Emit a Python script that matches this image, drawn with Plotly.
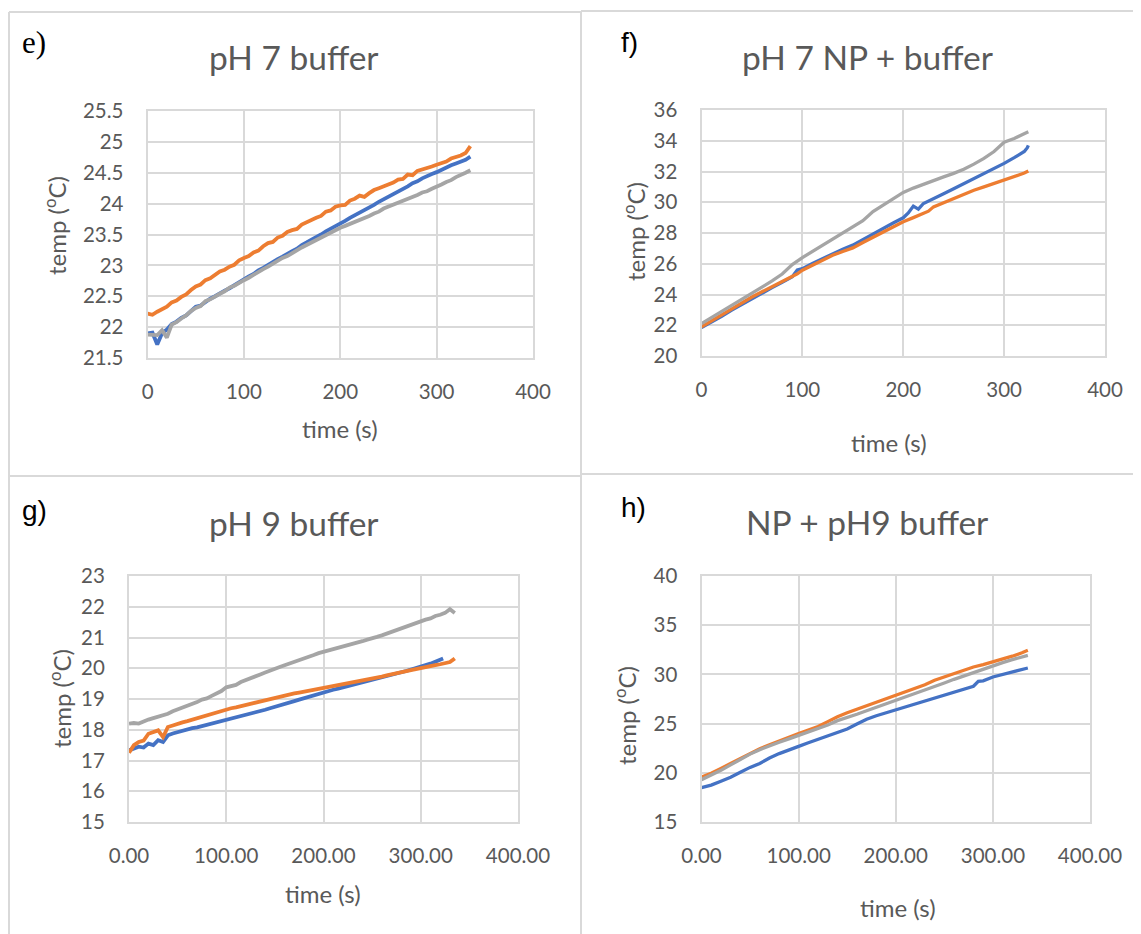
import plotly.graph_objects as go

# The page body has an 8 px margin, so the figure is drawn 8 px smaller and all
# positions below are given in window pixels and shifted by OFF.
WIN_W, WIN_H = 1141, 934
OFF = 8
W, H = WIN_W - OFF, WIN_H - OFF

# ---------------- data ----------------
# Panel e) pH 7 buffer
time_e = [0, 5, 10, 15, 20, 25, 30, 35, 40, 45, 50, 55, 60, 65, 70, 75, 80, 85, 90, 95,
          100, 105, 110, 115, 120, 125, 130, 135, 140, 145, 150, 155, 160, 165, 170, 175,
          180, 185, 190, 195, 200, 205, 210, 215, 220, 225, 230, 235, 240, 245, 250, 255,
          260, 265, 270, 275, 280, 285, 290, 295, 300, 305, 310, 315, 320, 325, 330, 335]
e_blue = [21.90, 21.91, 21.72, 21.90, 21.96, 22.05, 22.09, 22.15, 22.19, 22.27, 22.33, 22.35,
          22.41, 22.46, 22.50, 22.55, 22.59, 22.63, 22.68, 22.72, 22.77, 22.82, 22.86, 22.92,
          22.96, 23.01, 23.05, 23.10, 23.14, 23.19, 23.23, 23.27, 23.33, 23.37, 23.41, 23.46,
          23.50, 23.55, 23.59, 23.64, 23.68, 23.72, 23.77, 23.81, 23.86, 23.90, 23.94, 23.98,
          24.03, 24.07, 24.11, 24.15, 24.20, 24.24, 24.28, 24.33, 24.36, 24.41, 24.45, 24.48,
          24.51, 24.55, 24.58, 24.62, 24.65, 24.68, 24.71, 24.76]
e_orange = [22.22, 22.20, 22.25, 22.29, 22.33, 22.40, 22.43, 22.49, 22.53, 22.60, 22.66, 22.69,
            22.76, 22.79, 22.84, 22.90, 22.93, 22.98, 23.01, 23.08, 23.12, 23.15, 23.21, 23.24,
            23.31, 23.36, 23.38, 23.45, 23.48, 23.54, 23.57, 23.59, 23.66, 23.70, 23.73, 23.77,
            23.80, 23.87, 23.89, 23.95, 23.97, 23.98, 24.05, 24.08, 24.13, 24.11, 24.17, 24.22,
            24.25, 24.28, 24.31, 24.34, 24.39, 24.40, 24.47, 24.46, 24.53, 24.55, 24.58, 24.60,
            24.63, 24.66, 24.68, 24.73, 24.75, 24.78, 24.82, 24.93]
e_gray = [21.88, 21.88, 21.87, 21.95, 21.83, 22.04, 22.08, 22.14, 22.19, 22.26, 22.31, 22.34,
          22.42, 22.45, 22.50, 22.54, 22.58, 22.64, 22.67, 22.72, 22.76, 22.80, 22.85, 22.90,
          22.94, 22.98, 23.03, 23.07, 23.12, 23.15, 23.20, 23.24, 23.29, 23.33, 23.37, 23.42,
          23.46, 23.50, 23.53, 23.58, 23.61, 23.64, 23.67, 23.71, 23.73, 23.76, 23.80, 23.84,
          23.87, 23.92, 23.95, 23.98, 24.02, 24.05, 24.08, 24.11, 24.14, 24.18, 24.20, 24.24,
          24.27, 24.31, 24.35, 24.38, 24.43, 24.46, 24.50, 24.54]

# Panel f) pH 7 NP + buffer
f_time_blue = [0, 10, 20, 30, 40, 50, 60, 70, 80, 90, 95, 100, 110, 120, 130, 140, 150, 160,
               170, 180, 190, 200, 205, 210, 215, 220, 230, 240, 250, 260, 270, 280, 290, 300,
               310, 320, 323, 324]
f_blue = [21.85, 22.20, 22.58, 22.98, 23.36, 23.73, 24.10, 24.45, 24.80, 25.15, 25.60, 25.68,
          26.02, 26.35, 26.67, 26.95, 27.21, 27.58, 27.95, 28.30, 28.65, 28.99, 29.30, 29.75,
          29.55, 29.92, 30.22, 30.55, 30.88, 31.20, 31.55, 31.87, 32.20, 32.53, 32.90, 33.30,
          33.55, 33.70]
f_time_orange = [0, 10, 20, 30, 40, 50, 60, 70, 80, 90, 95, 100, 110, 120, 130, 140, 150, 160,
                 170, 180, 190, 200, 210, 220, 225, 230, 240, 250, 260, 270, 280, 290, 300, 310,
                 320, 324]
f_orange = [21.90, 22.30, 22.70, 23.10, 23.48, 23.84, 24.18, 24.52, 24.84, 25.15, 25.35, 25.58,
            25.92, 26.25, 26.55, 26.80, 27.03, 27.38, 27.72, 28.05, 28.40, 28.73, 29.00, 29.28,
            29.42, 29.70, 29.98, 30.25, 30.52, 30.78, 31.00, 31.22, 31.44, 31.65, 31.90, 32.03]
f_time_gray = [0, 10, 20, 30, 40, 50, 60, 70, 80, 90, 100, 110, 120, 130, 140, 150, 160, 170,
               180, 190, 200, 210, 220, 230, 240, 250, 260, 270, 280, 290, 300, 310, 320, 324]
f_gray = [22.11, 22.50, 22.92, 23.27, 23.66, 24.06, 24.48, 24.88, 25.33, 25.95, 26.40, 26.80,
          27.22, 27.62, 28.02, 28.40, 28.80, 29.40, 29.80, 30.25, 30.64, 30.92, 31.18, 31.42,
          31.65, 31.88, 32.15, 32.48, 32.85, 33.30, 33.90, 34.15, 34.45, 34.58]

# Panel g) pH 9 buffer
time_g = time_e
g_time_blue = [0, 5, 10, 15, 20, 25, 30, 35, 40, 45, 50, 55, 60, 65, 70, 75, 80, 85, 90, 95,
               100, 105, 110, 115, 120, 125, 130, 135, 140, 145, 150, 155, 160, 165, 170, 175,
               180, 185, 190, 195, 200, 205, 210, 215, 220, 225, 230, 235, 240, 245, 250, 255,
               260, 265, 270, 275, 280, 285, 290, 295, 300, 305, 310, 315, 320, 323]
g_blue = [17.33, 17.40, 17.45, 17.42, 17.55, 17.50, 17.66, 17.60, 17.82, 17.88, 17.93, 17.97,
          18.02, 18.05, 18.08, 18.12, 18.15, 18.19, 18.22, 18.27, 18.31, 18.35, 18.40, 18.43,
          18.48, 18.52, 18.56, 18.60, 18.65, 18.70, 18.74, 18.79, 18.83, 18.88, 18.93, 18.98,
          19.03, 19.07, 19.12, 19.16, 19.21, 19.26, 19.30, 19.34, 19.38, 19.42, 19.45, 19.49,
          19.53, 19.57, 19.60, 19.64, 19.69, 19.73, 19.78, 19.82, 19.87, 19.91, 19.95, 20.00,
          20.04, 20.10, 20.15, 20.21, 20.28, 20.32]
g_orange = [17.25, 17.50, 17.60, 17.65, 17.87, 17.92, 17.98, 17.76, 18.09, 18.14, 18.20, 18.24,
            18.28, 18.33, 18.37, 18.42, 18.46, 18.50, 18.55, 18.60, 18.66, 18.70, 18.73, 18.77,
            18.81, 18.85, 18.88, 18.92, 18.95, 18.99, 19.03, 19.07, 19.11, 19.14, 19.18, 19.21,
            19.24, 19.27, 19.30, 19.32, 19.34, 19.38, 19.42, 19.46, 19.49, 19.52, 19.55, 19.58,
            19.61, 19.64, 19.66, 19.70, 19.73, 19.77, 19.81, 19.84, 19.87, 19.90, 19.94, 19.97,
            20.01, 20.04, 20.07, 20.10, 20.13, 20.17, 20.20, 20.32]
g_gray = [18.20, 18.22, 18.20, 18.28, 18.33, 18.38, 18.42, 18.47, 18.52, 18.60, 18.66, 18.71,
          18.78, 18.82, 18.90, 18.98, 19.02, 19.10, 19.18, 19.26, 19.38, 19.43, 19.46, 19.55,
          19.62, 19.67, 19.74, 19.80, 19.86, 19.93, 19.99, 20.04, 20.10, 20.15, 20.22, 20.28,
          20.33, 20.37, 20.43, 20.49, 20.53, 20.58, 20.62, 20.66, 20.70, 20.76, 20.79, 20.84,
          20.88, 20.93, 20.96, 21.02, 21.07, 21.13, 21.18, 21.22, 21.28, 21.36, 21.41, 21.47,
          21.52, 21.58, 21.62, 21.70, 21.74, 21.80, 21.92, 21.80]

# Panel h) NP + pH9 buffer
h_time_blue = [0, 10, 20, 30, 40, 50, 60, 70, 80, 90, 100, 110, 120, 130, 140, 150, 160, 170,
               180, 190, 200, 210, 220, 230, 240, 250, 260, 270, 280, 285, 290, 300, 310, 320,
               330, 336]
h_blue = [18.49, 18.75, 19.15, 19.55, 20.05, 20.55, 20.95, 21.50, 21.95, 22.35, 22.69, 23.05,
          23.40, 23.75, 24.10, 24.45, 24.95, 25.45, 25.80, 26.10, 26.42, 26.75, 27.05, 27.35,
          27.65, 27.97, 28.25, 28.52, 28.80, 29.30, 29.35, 29.74, 30.00, 30.20, 30.50, 30.65]
h_time = [0, 10, 20, 30, 40, 50, 60, 70, 80, 90, 100, 110, 120, 130, 140, 150, 160, 170, 180,
          190, 200, 210, 220, 230, 240, 250, 260, 270, 280, 290, 300, 310, 320, 330, 336]
h_orange = [19.57, 19.95, 20.45, 20.95, 21.50, 22.00, 22.45, 22.85, 23.25, 23.65, 24.00, 24.35,
            24.70, 25.20, 25.70, 26.10, 26.45, 26.85, 27.20, 27.55, 27.87, 28.20, 28.55, 28.95,
            29.40, 29.74, 30.10, 30.40, 30.75, 31.00, 31.26, 31.55, 31.85, 32.20, 32.45]
h_gray = [19.30, 19.75, 20.25, 20.80, 21.35, 21.90, 22.35, 22.75, 23.10, 23.45, 23.80, 24.15,
          24.50, 24.85, 25.30, 25.60, 25.95, 26.30, 26.65, 26.98, 27.30, 27.65, 28.00, 28.38,
          28.75, 29.13, 29.50, 29.85, 30.20, 30.55, 30.92, 31.20, 31.50, 31.80, 31.94]

titles = ["pH 7 buffer", "pH 7 NP + buffer", "pH 9 buffer", "NP + pH9 buffer"]
panel_labels = ["e)", "f)", "g)", "h)"]
y_ranges = [[21.5, 25.5], [20, 36], [15, 23], [15, 40]]
y_dticks = [0.5, 2, 1, 5]
x_formats = ["d", "d", ".2f", ".2f"]

BLUE, ORANGE, GRAY = "#4472C4", "#ED7D31", "#A5A5A5"
TXT = "#595959"
GRID = "#D9D9D9"

# ---------------- layout geometry (window pixels) ----------------
plots = [  # left, right, top, bottom
    (147.6, 533, 111, 358),
    (701.5, 1105, 110, 356),
    (129, 518, 576, 822),
    (701.5, 1090, 576, 822),
]
line_widths = [3.8, 3.3, 3.8, 3.3]

def px(x):
    return (x - OFF) / W

def py(y):
    return 1 - (y - OFF) / H

fig = go.Figure()

series = [
    [(time_e, e_blue, BLUE), (time_e, e_orange, ORANGE), (time_e, e_gray, GRAY)],
    [(f_time_blue, f_blue, BLUE), (f_time_orange, f_orange, ORANGE), (f_time_gray, f_gray, GRAY)],
    [(g_time_blue, g_blue, BLUE), (time_g, g_orange, ORANGE), (time_g, g_gray, GRAY)],
    [(h_time_blue, h_blue, BLUE), (h_time, h_orange, ORANGE), (h_time, h_gray, GRAY)],
]

for i, group in enumerate(series):
    suf = "" if i == 0 else str(i + 1)
    for xs, ys, col in group:
        fig.add_trace(go.Scatter(x=xs, y=ys, mode="lines", xaxis="x" + suf, yaxis="y" + suf,
                                 line=dict(color=col, width=line_widths[i]), showlegend=False,
                                 hoverinfo="skip"))

layout = dict(template="none", width=W, height=H, margin=dict(l=0, r=0, t=0, b=0, pad=0),
              autosize=False, paper_bgcolor="white", plot_bgcolor="white", showlegend=False)

for i, (l, r, t, b) in enumerate(plots):
    suf = "" if i == 0 else str(i + 1)
    layout["xaxis" + suf] = dict(
        domain=[px(l), px(r)], anchor="y" + suf, range=[0, 400], dtick=100, tick0=0,
        tickformat=x_formats[i], showgrid=True, gridcolor=GRID, gridwidth=2,
        showline=True, linecolor=GRID, linewidth=2, mirror=True, zeroline=False,
        ticks="", tickfont=dict(family="Lato", size=20.5, color=TXT), ticklabelstandoff=14,
        automargin=False, fixedrange=True)
    layout["yaxis" + suf] = dict(
        domain=[py(b), py(t)], anchor="x" + suf, range=y_ranges[i], dtick=y_dticks[i],
        showgrid=True, gridcolor=GRID, gridwidth=2,
        showline=True, linecolor=GRID, linewidth=2, mirror=True, zeroline=False,
        ticks="", tickfont=dict(family="Lato", size=20.5, color=TXT), ticklabelstandoff=18,
        automargin=False, fixedrange=True)

fig.update_layout(**layout)

annotations = []
title_pos = [(294, 57), (867, 57), (294, 523), (867, 522)]
label_pos = [(20, 43, "Liberation Serif", 31), (619, 43, "Liberation Sans", 28),
             (20, 510, "Liberation Sans", 28), (619, 507, "Liberation Sans", 28)]
ytitle_pos = [(55, 226), (634, 232), (60, 699), (625, 716)]
xtitle_pos = [(340, 428), (889, 442), (323, 893), (898, 907)]

for i in range(4):
    tx, ty = title_pos[i]
    annotations.append(dict(text=titles[i], x=px(tx), y=py(ty), xref="paper", yref="paper",
                            xanchor="center", yanchor="middle", showarrow=False,
                            font=dict(family="Lato", size=33.5, color=TXT)))
    lx, ly, fam, fs = label_pos[i]
    annotations.append(dict(text=panel_labels[i], x=px(lx), y=py(ly), xref="paper", yref="paper",
                            xanchor="left", yanchor="middle", showarrow=False,
                            font=dict(family=fam, size=fs, color="black")))
    yx, yy = ytitle_pos[i]
    annotations.append(dict(text="temp (<sup>o</sup>C)", x=px(yx), y=py(yy), xref="paper",
                            yref="paper", xanchor="center", yanchor="middle", textangle=-90,
                            showarrow=False, font=dict(family="Lato", size=24, color=TXT)))
    xx, xy = xtitle_pos[i]
    annotations.append(dict(text="time (s)", x=px(xx), y=py(xy), xref="paper", yref="paper",
                            xanchor="center", yanchor="middle", showarrow=False,
                            font=dict(family="Lato", size=24, color=TXT)))

shapes = []
border = dict(color=GRID, width=2)
for (x0, y0, x1, y1) in [(9, 12, 581, 12), (581, 11, 1141, 11), (9, 12, 9, 934),
                         (581, 11, 581, 934), (9, 476, 581, 476), (581, 474, 1141, 474)]:
    shapes.append(dict(type="line", xref="paper", yref="paper", x0=px(x0), y0=py(y0),
                       x1=px(x1), y1=py(y1), line=border, layer="below"))

fig.update_layout(annotations=annotations, shapes=shapes)

fig.write_html("out.html")
